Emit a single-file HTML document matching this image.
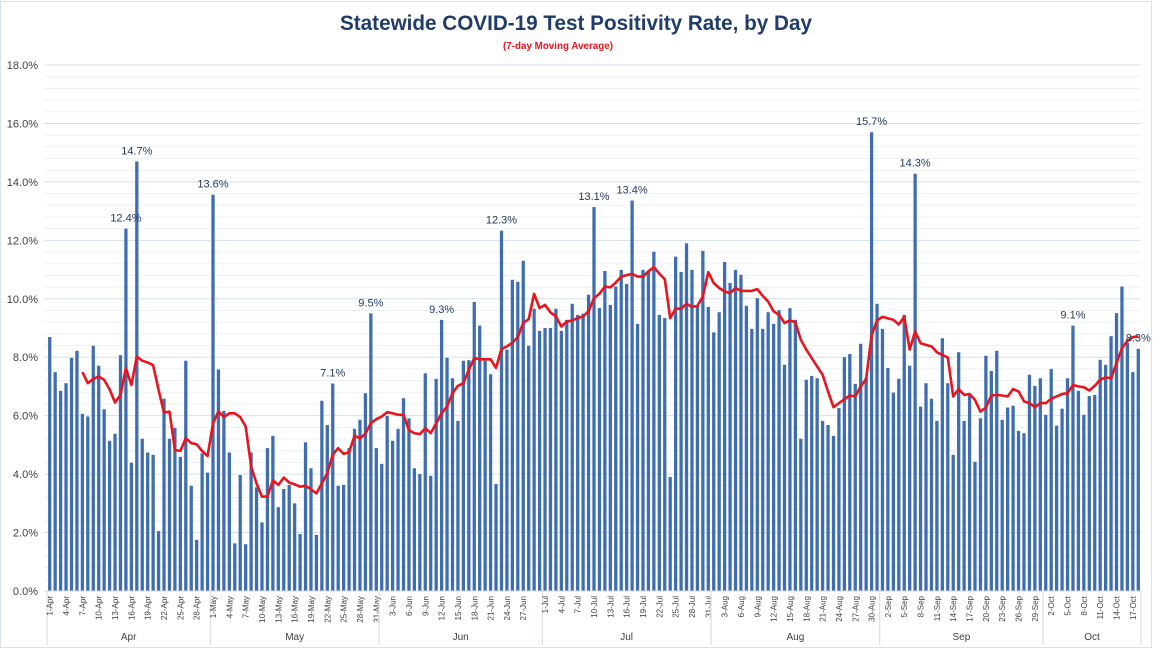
<!DOCTYPE html>
<html><head><meta charset="utf-8"><style>
html,body{margin:0;padding:0;background:#fff;}
svg{display:block;font-family:"Liberation Sans",sans-serif;}
</style></head><body>
<svg id="chart" width="1153" height="649" viewBox="0 0 1153 649" xmlns="http://www.w3.org/2000/svg">
<rect x="0.5" y="1.5" width="1151" height="646" fill="#fff" stroke="#d9e2ec"/>
<text x="340" y="30" font-size="21" font-weight="bold" fill="#1f3d6b" textLength="472" lengthAdjust="spacingAndGlyphs">Statewide COVID-19 Test Positivity Rate, by Day</text>
<text x="503" y="49" font-size="10.5" font-weight="bold" fill="#e8141e" textLength="110" lengthAdjust="spacingAndGlyphs">(7-day Moving Average)</text>
<g id="grid"></g><g id="bars"></g><g id="line"></g><g id="labels"></g><g id="xaxis"></g><g id="yaxis"></g>
</svg>
<script>
const months = ["Apr","May","Jun","Jul","Aug","Sep","Oct"];
const monthDays = [30,31,30,31,31,30,18];
const apr = [8.69,7.49,6.85,7.11,7.98,8.22,6.06,5.97,8.39,7.71,6.22,5.14,5.38,8.07,12.4,4.39,14.7,5.21,4.74,4.66,2.05,6.58,5.21,5.58,4.59,7.88,3.6,1.75,4.71,4.05];
const may = [13.56,7.58,6.16,4.74,1.63,3.97,1.6,4.74,3.55,2.35,4.89,5.31,2.87,3.49,3.63,3.0,1.95,5.09,4.2,1.92,6.51,5.68,7.1,3.6,3.63,4.89,5.55,5.86,6.77,9.5,4.89];
const jun = [4.35,5.99,5.14,5.55,6.6,5.91,4.2,4.0,7.45,3.94,7.26,9.28,7.98,7.28,5.82,7.88,7.9,9.89,9.08,7.88,7.42,3.66,12.33,8.26,10.65,10.58,11.3,8.39,9.66,8.9];
const jul = [9.0,9.0,9.66,8.9,9.28,9.83,9.45,9.49,10.14,13.14,9.68,10.95,9.79,10.42,10.99,10.51,13.36,9.14,10.99,10.94,11.61,9.45,9.34,3.9,11.44,10.92,11.9,10.99,9.76,11.64,9.72];
const aug = [8.85,9.54,11.26,10.54,10.99,10.82,9.76,8.97,10.02,8.97,9.54,9.14,9.61,7.74,9.68,9.28,5.21,7.23,7.36,7.28,5.82,5.68,5.31,6.26,8.0,8.11,7.09,8.46,7.3,15.7,9.83];
const sep = [8.97,7.63,6.79,7.26,9.45,7.71,14.28,6.31,7.11,6.58,5.82,8.65,7.11,4.66,8.17,5.82,6.69,4.42,5.91,8.05,7.53,8.22,5.86,6.28,6.34,5.48,5.4,7.4,7.02,7.28];
const oct = [6.03,7.6,5.66,6.24,7.28,9.08,6.85,6.03,6.67,6.71,7.91,7.74,8.72,9.51,10.42,8.5,7.49,8.29];
const maApr = [null,null,null,null,null,null,7.49,7.11,7.26,7.34,7.23,6.9,6.45,6.71,7.63,7.05,8.02,7.88,7.82,7.73,6.88,6.1,6.14,4.83,4.79,5.23,5.06,5.02,4.79,4.62];
const maMay = [5.74,6.14,5.95,6.08,6.08,5.95,5.63,4.26,3.69,3.23,3.23,3.78,3.63,3.88,3.71,3.65,3.57,3.6,3.48,3.34,3.69,4.03,4.66,4.89,4.69,4.75,5.31,5.23,5.38,5.74,5.88];
const maJun = [5.97,6.12,6.08,6.03,6.03,5.51,5.4,5.37,5.57,5.4,5.74,6.08,6.31,6.77,7.02,7.11,7.57,7.97,7.93,7.93,7.93,7.63,8.28,8.37,8.5,8.69,9.17,9.3,10.17,9.68];
const maJul = [9.79,9.53,9.4,9.05,9.22,9.26,9.34,9.4,9.58,10.02,10.17,10.42,10.39,10.56,10.76,10.81,10.85,10.76,10.76,10.94,11.08,10.86,10.67,9.34,9.66,9.66,9.83,9.72,9.76,10.08,10.91];
const maAug = [10.54,10.37,10.25,10.19,10.37,10.27,10.27,10.27,10.33,10.1,9.9,9.57,9.45,9.17,9.26,9.19,8.6,8.26,7.97,7.68,7.4,6.83,6.29,6.43,6.56,6.69,6.66,7.0,7.25,8.74,9.26];
const maSep = [9.38,9.33,9.28,9.12,9.38,8.26,8.88,8.48,8.42,8.37,8.17,8.08,7.99,6.66,6.91,6.71,6.74,6.54,6.14,6.28,6.69,6.71,6.69,6.66,6.91,6.83,6.49,6.43,6.29,6.43];
const maOct = [6.43,6.58,6.66,6.74,6.77,7.05,7.0,6.97,6.86,7.02,7.23,7.31,7.28,7.8,8.31,8.56,8.69,8.71];
const labeledDays = ["Apr 15","Apr 17","May 1","May 23","May 30","Jun 12","Jun 23","Jul 10","Jul 17","Aug 30","Sep 7","Oct 6","Oct 18"];
const yTicks = [0,2,4,6,8,10,12,14,16,18];
const tickDays = {Apr:[1,4,7,10,13,16,19,22,25,28],May:[1,4,7,10,13,16,19,22,25,28,31],Jun:[3,6,9,12,15,18,21,24,27],Jul:[1,4,7,10,13,16,19,22,25,28,31],Aug:[3,6,9,12,15,18,21,24,27,30],Sep:[2,5,8,11,14,17,20,23,26,29],Oct:[2,5,8,11,14,17]};

const values = [].concat(apr,may,jun,jul,aug,sep,oct);
const ma = [].concat(maApr,maMay,maJun,maJul,maAug,maSep,maOct);
const NS="http://www.w3.org/2000/svg";
const X0=47, X1=1141, Y0=591, Y1=65, YMAX=18;
const n=values.length, step=(X1-X0)/n;
const xc=i=>X0+step*(i+0.5);
const y=v=>Y0-(v/YMAX)*(Y0-Y1);
function mk(tag,attrs,parent,txt){const e=document.createElementNS(NS,tag);for(const k in attrs)e.setAttribute(k,attrs[k]);if(txt!==undefined)e.textContent=txt;parent.appendChild(e);return e;}
const G=id=>document.getElementById(id);
// index lookup
const starts=[];let acc=0;monthDays.forEach(d=>{starts.push(acc);acc+=d;});
const idxOf=(m,d)=>starts[months.indexOf(m)]+d-1;
// grid
for(let v=0;v<=YMAX+0.001;v+=0.4){
  const major=Math.abs(v/2-Math.round(v/2))<0.01;
  const l=mk('line',{x1:X0-3,x2:X1,y1:y(v),y2:y(v),stroke:major?'#d3e0ee':'#eaf0f6','stroke-width':1},G('grid'));
  
  
}
yTicks.forEach(t=>{
  const tx=mk('text',{x:38,y:y(t)+4,'font-size':11,'text-anchor':'end',fill:'#404040'},G('yaxis'),t.toFixed(1)+'%');
  
  
});
// bars
values.forEach((v,i)=>{
  const bw=step*0.6;
  const r=mk('rect',{x:xc(i)-bw/2,y:y(v),width:bw,height:Y0-y(v),fill:'#3e6db1'},G('bars'));
  
  
});
// line
let d='';
ma.forEach((v,i)=>{if(v===null)return;d+=(d?'L':'M')+xc(i).toFixed(1)+','+y(v).toFixed(1);});
const p=mk('path',{d:d,fill:'none',stroke:'#e8141e','stroke-width':2.6,'stroke-linejoin':'round'},G('line'));


// value labels
labeledDays.forEach(s=>{
  const [m,dd]=s.split(' ');const i=idxOf(m,+dd);
  const t=mk('text',{x:xc(i),y:y(values[i])-7,'font-size':11,'text-anchor':'middle',fill:'#243b5c'},G('labels'),values[i].toFixed(1)+'%');
  
  
});
// x axis
const ax=mk('line',{x1:X0,x2:X1,y1:Y0,y2:Y0,stroke:'#d0d8e0'},G('xaxis'));


months.forEach((m,k)=>{
  const sx=X0+starts[k]*step;
  const sep=mk('line',{x1:sx,x2:sx,y1:Y0,y2:645,stroke:'#d0d8e0'},G('xaxis'));
  
  
  const cx=X0+(starts[k]+monthDays[k]/2)*step;
  const ml=mk('text',{x:cx,y:640,'font-size':10,'text-anchor':'middle',fill:'#404040'},G('xaxis'),m);
  
  
  tickDays[m].forEach(dd=>{
    const i=idxOf(m,dd);
    const t=mk('text',{x:0,y:0,'font-size':8,'text-anchor':'end',fill:'#404040',transform:`translate(${xc(i)+3},${Y0+5}) rotate(-90)`},G('xaxis'),dd+'-'+m);
    
    
  });
});
const ex=X1;
const sepEnd=mk('line',{x1:ex,x2:ex,y1:Y0,y2:645,stroke:'#d0d8e0'},G('xaxis'));


</script>
</body></html>
